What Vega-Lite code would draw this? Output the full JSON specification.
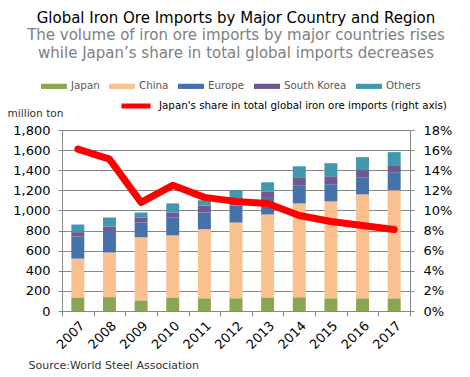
{
  "$schema": "https://vega.github.io/schema/vega-lite/v6.json",
  "width": 348,
  "height": 181,
  "autosize": {"type": "none"},
  "padding": {"left": 62, "top": 130, "right": 60, "bottom": 66},
  "background": "white",
  "config": {
    "font": "DejaVu Sans",
    "view": {"stroke": null},
    "axis": {"domainColor": "#888888", "tickColor": "#888888", "gridColor": "#888888", "labelColor": "#000000", "labelFontSize": 13, "tickSize": 4}
  },
  "title": {
    "text": "Global Iron Ore Imports by Major Country and Region",
    "subtitle": ["The volume of iron ore imports by major countries rises", "while Japan’s share in total global imports decreases"],
    "anchor": "middle",
    "fontSize": 15,
    "fontWeight": "normal",
    "color": "#000000",
    "subtitleFontSize": 15,
    "subtitleColor": "#808080",
    "subtitleLineHeight": 18,
    "subtitlePadding": 2,
    "offset": 12
  },
  "datasets": {
    "bars": [
      {"year": "2007", "region": "Japan", "value": 135},
      {"year": "2007", "region": "China", "value": 386},
      {"year": "2007", "region": "Europe", "value": 220},
      {"year": "2007", "region": "South Korea", "value": 43},
      {"year": "2007", "region": "Others", "value": 76},
      {"year": "2008", "region": "Japan", "value": 138},
      {"year": "2008", "region": "China", "value": 444},
      {"year": "2008", "region": "Europe", "value": 208},
      {"year": "2008", "region": "South Korea", "value": 50},
      {"year": "2008", "region": "Others", "value": 90},
      {"year": "2009", "region": "Japan", "value": 105},
      {"year": "2009", "region": "China", "value": 628},
      {"year": "2009", "region": "Europe", "value": 148},
      {"year": "2009", "region": "South Korea", "value": 50},
      {"year": "2009", "region": "Others", "value": 49},
      {"year": "2010", "region": "Japan", "value": 134},
      {"year": "2010", "region": "China", "value": 618},
      {"year": "2010", "region": "Europe", "value": 180},
      {"year": "2010", "region": "South Korea", "value": 48},
      {"year": "2010", "region": "Others", "value": 90},
      {"year": "2011", "region": "Japan", "value": 128},
      {"year": "2011", "region": "China", "value": 686},
      {"year": "2011", "region": "Europe", "value": 166},
      {"year": "2011", "region": "South Korea", "value": 70},
      {"year": "2011", "region": "Others", "value": 52},
      {"year": "2012", "region": "Japan", "value": 126},
      {"year": "2012", "region": "China", "value": 754},
      {"year": "2012", "region": "Europe", "value": 170},
      {"year": "2012", "region": "South Korea", "value": 60},
      {"year": "2012", "region": "Others", "value": 92},
      {"year": "2013", "region": "Japan", "value": 135},
      {"year": "2013", "region": "China", "value": 825},
      {"year": "2013", "region": "Europe", "value": 173},
      {"year": "2013", "region": "South Korea", "value": 57},
      {"year": "2013", "region": "Others", "value": 90},
      {"year": "2014", "region": "Japan", "value": 136},
      {"year": "2014", "region": "China", "value": 934},
      {"year": "2014", "region": "Europe", "value": 180},
      {"year": "2014", "region": "South Korea", "value": 80},
      {"year": "2014", "region": "Others", "value": 110},
      {"year": "2015", "region": "Japan", "value": 126},
      {"year": "2015", "region": "China", "value": 964},
      {"year": "2015", "region": "Europe", "value": 170},
      {"year": "2015", "region": "South Korea", "value": 80},
      {"year": "2015", "region": "Others", "value": 130},
      {"year": "2016", "region": "Japan", "value": 126},
      {"year": "2016", "region": "China", "value": 1034},
      {"year": "2016", "region": "Europe", "value": 170},
      {"year": "2016", "region": "South Korea", "value": 70},
      {"year": "2016", "region": "Others", "value": 130},
      {"year": "2017", "region": "Japan", "value": 126},
      {"year": "2017", "region": "China", "value": 1074},
      {"year": "2017", "region": "Europe", "value": 180},
      {"year": "2017", "region": "South Korea", "value": 70},
      {"year": "2017", "region": "Others", "value": 130}
    ],
    "share": [
      {"year": "2007", "share": 0.161},
      {"year": "2008", "share": 0.151},
      {"year": "2009", "share": 0.108},
      {"year": "2010", "share": 0.125},
      {"year": "2011", "share": 0.113},
      {"year": "2012", "share": 0.109},
      {"year": "2013", "share": 0.107},
      {"year": "2014", "share": 0.095},
      {"year": "2015", "share": 0.089},
      {"year": "2016", "share": 0.085},
      {"year": "2017", "share": 0.081}
    ]
  },
  "layer": [
    {
      "data": {"name": "bars"},
      "transform": [
        {"calculate": "indexof(['Japan', 'China', 'Europe', 'South Korea', 'Others'], datum.region)", "as": "stackOrder"}
      ],
      "mark": {"type": "bar", "width": {"band": 0.41}},
      "encoding": {
        "x": {
          "field": "year", "type": "ordinal",
          "scale": {"paddingInner": 0, "paddingOuter": 0},
          "axis": {
            "labelAngle": -45, "tickBand": "extent", "tickSize": 5, "labelPadding": 3,
            "title": "Source:World Steel Association",
            "titleFontSize": 11, "titleFontWeight": "normal", "titleColor": "#333333",
            "titleAnchor": "start", "titleAlign": "left", "titleBaseline": "alphabetic",
            "titleX": -34, "titleY": 57
          }
        },
        "y": {
          "field": "value", "type": "quantitative", "stack": "zero",
          "scale": {"domain": [0, 1800], "nice": false},
          "axis": {
            "values": [0, 200, 400, 600, 800, 1000, 1200, 1400, 1600, 1800],
            "format": ",.0f", "grid": true, "labelPadding": 8,
            "title": "million ton", "titleAngle": 0, "titleFontSize": 10.6, "titleFontWeight": "normal",
            "titleColor": "#333333", "titleAlign": "left", "titleBaseline": "alphabetic",
            "titleX": -55, "titleY": -14
          }
        },
        "order": {"field": "stackOrder", "type": "quantitative", "sort": "ascending"},
        "color": {
          "field": "region", "type": "nominal",
          "sort": ["Japan", "China", "Europe", "South Korea", "Others"],
          "scale": {
            "domain": ["Japan", "China", "Europe", "South Korea", "Others"],
            "range": ["#8BA650", "#FAC090", "#4672AA", "#71588F", "#4198AF"]
          },
          "legend": {
            "title": null, "orient": "none", "direction": "horizontal",
            "legendX": -21, "legendY": -57,
            "symbolType": "M-1,-0.2L1,-0.2L1,0.2L-1,0.2Z", "symbolSize": 676,
            "symbolStrokeWidth": 0, "labelFontSize": 10.3, "labelColor": "#595959",
            "labelOffset": 4, "columnPadding": 9
          }
        }
      }
    },
    {
      "data": {"name": "share"},
      "mark": {"type": "line", "strokeWidth": 7, "strokeCap": "round", "strokeJoin": "round"},
      "encoding": {
        "x": {"field": "year", "type": "ordinal"},
        "y": {
          "field": "share", "type": "quantitative",
          "scale": {"domain": [0, 0.18], "nice": false},
          "axis": {
            "orient": "right", "format": ".0%", "grid": false, "labelPadding": 9,
            "values": [0, 0.02, 0.04, 0.06, 0.08, 0.1, 0.12, 0.14, 0.16, 0.18],
            "title": null
          }
        },
        "stroke": {
          "datum": "Japan's share in total global iron ore imports (right axis)",
          "type": "nominal",
          "scale": {"range": ["#FF0000"]},
          "legend": {
            "title": null, "orient": "none", "legendX": 57, "legendY": -41,
            "symbolType": "stroke", "symbolSize": 841, "symbolStrokeWidth": 5,
            "labelFontSize": 10.3, "labelColor": "#000000", "labelOffset": 6, "labelLimit": 400
          }
        }
      }
    }
  ],
  "resolve": {"scale": {"y": "independent"}}
}
